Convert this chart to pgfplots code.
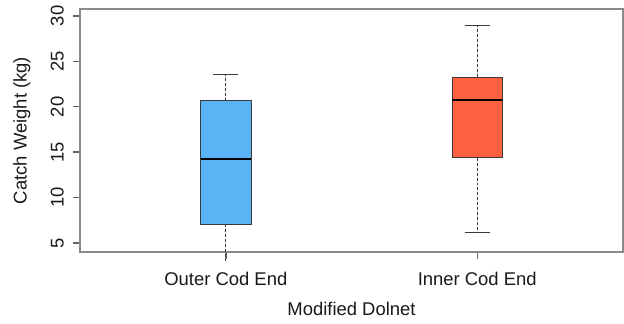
\documentclass[border=0pt]{standalone}
\usepackage{fontspec}
\setmainfont{Liberation Sans}
\usepackage{pgfplots}
\pgfplotsset{compat=1.18}
\usepgfplotslibrary{statistics}
\definecolor{boxblue}{HTML}{5AB3F5}
\definecolor{boxred}{HTML}{FF6040}
\definecolor{framegray}{HTML}{8A8A8A}
\definecolor{tickgray}{HTML}{666666}
\definecolor{edge}{HTML}{3A3A3A}
\begin{document}
\begin{tikzpicture}
\begin{axis}[
  scale only axis=true,
  width=543bp, height=243bp,
  xmin=0.42, xmax=2.58,
  ymin=4.0, ymax=30.77,
  clip=false,
  axis line style={framegray, line width=1.1pt},
  xmajorticks=true, ymajorticks=true,
  tick align=outside,
  major tick length=7bp,
  every tick/.style={tickgray, line width=1.4pt},
  xtick={1,2},
  xticklabels={Outer Cod End, Inner Cod End},
  ytick={5,10,15,20,25,30},
  tick pos=left,
  /pgf/number format/assume math mode=true,
  ticklabel style={font=\fontsize{18.5}{19}\selectfont, text=black!90},
  yticklabel style={rotate=90, anchor=south, inner sep=0pt, yshift=9bp},
  xticklabel style={yshift=-10bp},
  xlabel={Modified Dolnet},
  ylabel={Catch Weight (kg)},
  label style={font=\fontsize{18.5}{19}\selectfont, text=black!90},
  xlabel style={at={(axis description cs:0.5,-0.235)}, anchor=center},
  ylabel style={at={(axis description cs:-0.107,0.5)}, anchor=center},
  boxplot/draw direction=y,
  boxplot/box extend=0.2,
  boxplot/every box/.style={draw=edge, line width=0.8pt},
  boxplot/every median/.style={black, line width=2pt},
  boxplot/draw/upper whisker/.code={%
    \draw[densely dashed, edge, line width=0.8pt]
      (boxplot whisker cs:\pgfplotsboxplotvalue{upper quartile},0.5) --
      (boxplot whisker cs:\pgfplotsboxplotvalue{upper whisker},0.5);
    \draw[edge, line width=0.9pt]
      (boxplot box cs:\pgfplotsboxplotvalue{upper whisker},0.25) --
      (boxplot box cs:\pgfplotsboxplotvalue{upper whisker},0.75);
  },
]
\addplot+[boxplot prepared={
    draw position=1,
    lower whisker=3.0, lower quartile=7.05,
    median=14.2, upper quartile=20.65, upper whisker=23.6},
  fill=boxblue, draw=edge, mark=none,
  boxplot/draw/lower whisker/.code={%
    \draw[densely dashed, edge, line width=0.8pt]
      (boxplot box cs:\pgfplotsboxplotvalue{lower quartile},0.5) --
      (boxplot box cs:\pgfplotsboxplotvalue{lower whisker},0.5);
  },
] coordinates {};
\addplot+[boxplot prepared={
    draw position=2,
    lower whisker=6.2, lower quartile=14.4,
    median=20.75, upper quartile=23.25, upper whisker=29.0},
  fill=boxred, draw=edge, mark=none,
  boxplot/draw/lower whisker/.code={%
    \draw[densely dashed, edge, line width=0.8pt]
      (boxplot box cs:\pgfplotsboxplotvalue{lower quartile},0.5) --
      (boxplot box cs:\pgfplotsboxplotvalue{lower whisker},0.5);
    \draw[edge, line width=0.9pt]
      (boxplot box cs:\pgfplotsboxplotvalue{lower whisker},0.25) --
      (boxplot box cs:\pgfplotsboxplotvalue{lower whisker},0.75);
  },
] coordinates {};
\end{axis}
\pgfresetboundingbox
\path (-80bp,-72bp) rectangle (544bp,252bp);
\end{tikzpicture}
\end{document}
